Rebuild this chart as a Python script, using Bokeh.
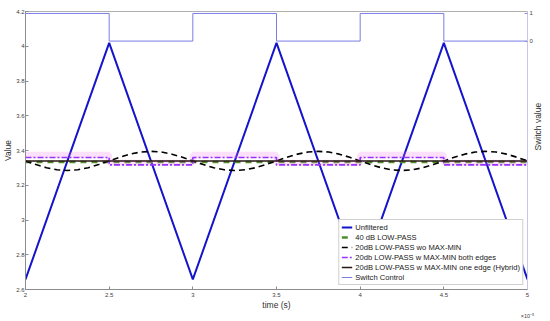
import math
from bokeh.plotting import figure
from bokeh.models import (Range1d, LinearAxis, FixedTicker, CustomJSTickFormatter,
                          Legend, LegendItem)
from bokeh.embed import file_html
from bokeh.resources import INLINE

# time axis in units of 1e-5 s
unf_t = [2, 2.5, 3, 3.5, 4, 4.5, 5]
unf_v = [2.658, 4.019, 2.658, 4.019, 2.658, 4.019, 2.658]

lp40_t = [2, 5]
lp40_v = [3.334, 3.334]

wo_t = [2 + 0.0625 * i for i in range(49)]
wo_v = [3.340, 3.319, 3.301, 3.289, 3.285, 3.289, 3.301, 3.319,
        3.340, 3.361, 3.379, 3.391, 3.395, 3.391, 3.379, 3.361,
        3.340, 3.319, 3.301, 3.289, 3.285, 3.289, 3.301, 3.319,
        3.340, 3.361, 3.379, 3.391, 3.395, 3.391, 3.379, 3.361,
        3.340, 3.319, 3.301, 3.289, 3.285, 3.289, 3.301, 3.319,
        3.340, 3.361, 3.379, 3.391, 3.395, 3.391, 3.379, 3.361,
        3.340]

both_t = [2, 2.5, 3, 3.5, 4, 4.5, 5]
both_v = [3.360, 3.317, 3.360, 3.317, 3.360, 3.317, 3.317]
both_band_v = [3.376, 3.329, 3.376, 3.329, 3.376, 3.329, 3.329]

hyb_t = [2, 5]
hyb_v = [3.340, 3.340]

sw_t = [2, 2.5, 3, 3.5, 4, 4.5, 5]
sw_v = [1, 0, 1, 0, 1, 0, 0]

x_ticks = [2, 2.5, 3, 3.5, 4, 4.5, 5]
y_ticks = [2.6, 2.8, 3.0, 3.2, 3.4, 3.6, 3.8, 4.0, 4.2]
sw_ticks = [0, 1]

FONT = "Liberation Sans"
X0, X1, Y0, Y1 = 2, 5, 2.6, 4.2
W, H = 550, 321
BL, BR, BT, BB = 20, 20, 11, 28

p = figure(width=W, height=H, x_range=Range1d(X0, X1), y_range=Range1d(Y0, Y1),
           output_backend="svg", toolbar_location=None,
           min_border_left=BL, min_border_right=BR, min_border_top=BT, min_border_bottom=BB)
p.extra_y_ranges = {"sw": Range1d(-9.0, 1.071)}
p.grid.visible = False
p.outline_line_color = "#b0b0b0"
p.background_fill_color = "white"
p.border_fill_color = "white"

fmt = CustomJSTickFormatter(code="return String(Number(tick.toFixed(2)));")

for ax in (p.xaxis[0], p.yaxis[0]):
    ax.formatter = fmt
    ax.major_tick_in = 3
    ax.major_tick_out = 0
    ax.minor_tick_line_color = None
    ax.axis_line_color = "#8c8c8c"
    ax.major_tick_line_color = "#8c8c8c"
    ax.major_label_text_font = FONT
    ax.major_label_text_font_size = "6px"
    ax.major_label_text_color = "#404040"
    ax.axis_label_text_font = FONT
    ax.axis_label_text_font_size = "8.5px"
    ax.axis_label_text_font_style = "normal"
    ax.axis_label_text_color = "#303030"

p.xaxis[0].ticker = FixedTicker(ticks=x_ticks)
p.xaxis[0].axis_label = "time (s)"
p.xaxis[0].major_label_standoff = 3
p.xaxis[0].axis_label_standoff = 0
p.yaxis[0].ticker = FixedTicker(ticks=y_ticks)
p.yaxis[0].axis_label = "Value"
p.yaxis[0].major_label_standoff = 1
p.yaxis[0].axis_label_standoff = 0

# multiplier note under the right end of the time axis
mult_ax = LinearAxis(ticker=FixedTicker(ticks=[]), axis_label="×10⁻⁵")
mult_ax.axis_line_color = None
mult_ax.major_tick_line_color = None
mult_ax.minor_tick_line_color = None
mult_ax.major_label_text_font_size = "0px"
mult_ax.major_label_standoff = 0
mult_ax.axis_label_standoff = 0
mult_ax.axis_label_align = "end"
mult_ax.axis_label_text_font = FONT
mult_ax.axis_label_text_font_size = "5.5px"
mult_ax.axis_label_text_font_style = "normal"
mult_ax.axis_label_text_color = "#404040"
p.add_layout(mult_ax, "below")

rax = LinearAxis(y_range_name="sw", ticker=FixedTicker(ticks=sw_ticks),
                 axis_label="Switch value")
rax.major_tick_in = 3
rax.major_tick_out = 0
rax.minor_tick_line_color = None
rax.axis_line_color = "#c4c8ec"
rax.major_tick_line_color = "#9090d0"
rax.major_label_text_font = FONT
rax.major_label_text_font_size = "6px"
rax.major_label_text_color = "#404040"
rax.major_label_standoff = 2
rax.axis_label_standoff = 2
rax.axis_label_orientation = math.pi / 2
rax.axis_label_text_font = FONT
rax.axis_label_text_font_size = "8.5px"
rax.axis_label_text_font_style = "normal"
rax.axis_label_text_color = "#303030"
p.add_layout(rax, "right")

r_sw = p.step(sw_t, sw_v, mode="after", y_range_name="sw",
              line_color="#7c7ce6", line_width=1)
r_unf = p.line(unf_t, unf_v, line_color="#1414cc", line_width=2)
r_40 = p.line(lp40_t, lp40_v, line_color="#4e8f2c", line_width=2.5, line_dash="6 5")
r_wo = p.line(wo_t, wo_v, line_color="black", line_width=1.6, line_dash="6 4")
r_band = p.step(both_t, both_band_v, mode="after", line_color="#f070f0",
                line_width=6, line_alpha=0.22)
r_both = p.step(both_t, both_v, mode="after", line_color="#9933ff", line_width=1.6,
                line_dash="6 2 2 2")
r_hyb = p.line(hyb_t, hyb_v, line_color="#2a1616", line_width=1.4)

legend = Legend(items=[
    LegendItem(label="Unfiltered", renderers=[r_unf]),
    LegendItem(label="40 dB LOW-PASS", renderers=[r_40]),
    LegendItem(label="20dB LOW-PASS wo MAX-MIN", renderers=[r_wo]),
    LegendItem(label="20db LOW-PASS w MAX-MIN both edges", renderers=[r_both]),
    LegendItem(label="20dB LOW-PASS w MAX-MIN one edge (Hybrid)", renderers=[r_hyb]),
    LegendItem(label="Switch Control", renderers=[r_sw]),
], location="bottom_right")
legend.margin = 4
legend.padding = 2
legend.spacing = 0
legend.label_height = 10
legend.glyph_height = 10
legend.glyph_width = 11
legend.label_standoff = 3
legend.label_text_font = FONT
legend.label_text_font_size = "7.6px"
legend.label_text_color = "#202020"
legend.border_line_color = "#a0a0a0"
legend.background_fill_alpha = 1
p.add_layout(legend, "center")

open("out.html", "w").write(file_html(p, INLINE))
